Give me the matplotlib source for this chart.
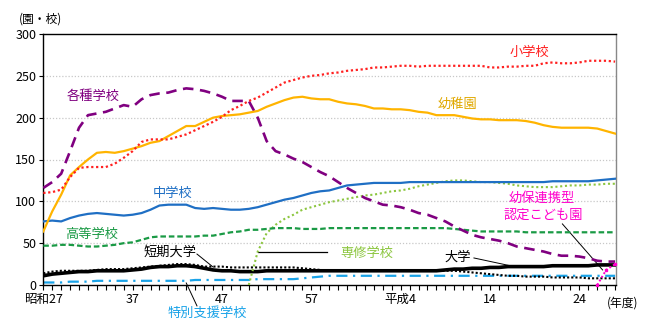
import numpy as np
import matplotlib
matplotlib.use('Agg')
import matplotlib.pyplot as plt

plt.rcParams['font.family'] = ['Noto Sans CJK JP', 'DejaVu Sans']

# fiscal years 昭和27 (1952) .. 平成28 (2016)
years = list(range(1952, 2017))

shogakko = [110, 111, 114, 129, 140, 141, 141, 141, 145, 152,
            160, 171, 174, 174, 174, 177, 180, 185, 190, 195,
            201, 209, 214, 220, 224, 230, 236, 242, 245, 248,
            250, 251, 253, 254, 256, 257, 258, 260, 260, 261,
            262, 262, 261, 262, 262, 262, 262, 262, 262, 262,
            260, 260, 261, 261, 262, 262, 265, 266, 265, 265,
            266, 268, 268, 268, 267]
yochien = [64, 88, 108, 131, 141, 150, 158, 159, 158, 160,
           163, 166, 170, 172, 178, 184, 190, 190, 195, 200,
           202, 203, 204, 206, 208, 213, 217, 221, 224, 225,
           223, 222, 222, 219, 217, 216, 214, 211, 211, 210,
           210, 209, 207, 206, 203, 203, 203, 201, 199, 198,
           198, 197, 197, 197, 196, 194, 191, 189, 188, 188,
           188, 188, 187, 184, 181]
kakushu = [116, 123, 133, 160, 188, 203, 205, 207, 211, 215,
           213, 222, 227, 229, 230, 233, 235, 234, 232, 229,
           225, 220, 220, 220, 200, 172, 160, 156, 151, 147,
           141, 135, 130, 123, 116, 110, 104, 100, 96, 95,
           93, 90, 86, 84, 80, 76, 70, 65, 60, 57,
           55, 53, 50, 46, 44, 42, 40, 37, 35, 35,
           34, 32, 29, 28, 28]
chugakko = [76, 77, 76, 80, 83, 85, 86, 85, 84, 83,
            84, 86, 90, 95, 96, 96, 96, 92, 91, 92,
            91, 90, 90, 91, 93, 96, 99, 102, 104, 107,
            110, 112, 113, 116, 119, 120, 121, 122, 122, 122,
            122, 123, 123, 123, 123, 123, 123, 123, 123, 123,
            123, 123, 123, 123, 123, 123, 123, 124, 124, 124,
            124, 124, 125, 126, 127]
koto = [47, 47, 48, 48, 47, 46, 46, 47, 48, 50,
        51, 54, 57, 58, 58, 58, 58, 58, 59, 59,
        61, 63, 64, 66, 66, 67, 68, 68, 68, 67,
        67, 67, 68, 68, 68, 68, 68, 68, 68, 68,
        68, 68, 68, 68, 68, 68, 67, 66, 65, 64,
        64, 64, 64, 64, 63, 63, 63, 63, 63, 63,
        63, 63, 63, 63, 63]
daigaku = [11, 13, 14, 15, 16, 16, 17, 17, 17, 17,
           18, 19, 21, 22, 22, 23, 23, 22, 20, 18,
           17, 17, 16, 16, 16, 17, 17, 17, 17, 17,
           17, 17, 17, 17, 17, 17, 17, 17, 17, 17,
           17, 17, 17, 17, 17, 18, 19, 19, 20, 20,
           21, 21, 22, 22, 22, 22, 22, 23, 23, 23,
           23, 23, 24, 24, 24]
tanki = [14, 16, 17, 17, 17, 17, 18, 19, 19, 19,
         20, 21, 22, 23, 24, 25, 25, 24, 22, 22,
         22, 21, 21, 21, 21, 21, 21, 21, 21, 20,
         19, 18, 17, 17, 17, 17, 17, 17, 17, 17,
         17, 17, 17, 17, 17, 17, 17, 16, 15, 14,
         13, 12, 11, 11, 10, 10, 10, 9, 9, 9,
         9, 8, 8, 8, 8]
tokubetsu = [3, 3, 3, 4, 4, 4, 5, 5, 5, 5,
             5, 5, 5, 5, 5, 5, 5, 6, 6, 6,
             6, 6, 6, 6, 7, 7, 7, 7, 7, 8,
             9, 10, 11, 11, 11, 11, 11, 11, 11, 11,
             11, 11, 11, 11, 11, 11, 11, 11, 11, 11,
             11, 11, 11, 11, 11, 11, 11, 11, 11, 11,
             11, 11, 11, 11, 11]

# 専修学校 from 昭和50, こども園 from 平成26
senshu_years = list(range(1975, 2017))
senshu = [0, 40, 62, 72, 79, 84, 90, 93, 96, 99,
          101, 103, 105, 107, 108, 110, 112, 113, 115, 118,
          120, 122, 124, 125, 125, 124, 123, 123, 122, 121,
          119, 118, 117, 117, 117, 118, 119, 119, 120, 120,
          121, 121]
kodomo_years = [2014, 2015, 2016]
kodomo = [0, 18, 25]

xtick_pos = [1952, 1962, 1972, 1982, 1992, 2002, 2012]
xtick_labels = ['昭和27', '37', '47', '57', '平成4', '14', '24']

fig = plt.figure(figsize=(6.49, 3.33), dpi=100)
ax = fig.add_axes([43.3 / 649, 1 - 285 / 333, (616 - 43.3) / 649, (285 - 34) / 333])

# gridlines
for v in [50, 100, 150, 200, 250]:
    ax.axhline(v, color='#c8c8c8', lw=0.9, ls=(0, (1, 1.5)), zorder=0)

ax.plot(years, tokubetsu, color='#1aa3e8', lw=1.6, ls=(0, (5, 2.5, 1, 2.5)), zorder=2)
ax.plot(years, tanki, color='black', lw=1.5, ls=(0, (1, 1)), zorder=3)
ax.plot(years, daigaku, color='black', lw=2.6, zorder=3)
ax.plot(senshu_years, senshu, color='#8cc63f', lw=1.5, ls=(0, (1, 1.3)), zorder=3)
ax.plot(years, koto, color='#1a9a45', lw=1.6, ls=(0, (2.5, 1.3)), zorder=3)
ax.plot(years, chugakko, color='#1f6fc4', lw=1.6, zorder=3)
ax.plot(years, kakushu, color='#800080', lw=1.9, ls=(0, (4, 2.5)), zorder=3)
ax.plot(years, yochien, color='#ffb400', lw=1.6, zorder=3)
ax.plot(years, shogakko, color='#ff2020', lw=1.6, ls=(0, (1, 1.2)), zorder=4)
ax.plot(kodomo_years, kodomo, color='#ff00cc', lw=1.4, ls=(0, (1, 1.2)), zorder=5,
        marker='s', markersize=1.8, clip_on=False)

ax.set_xlim(1952, 2016.1)
ax.set_ylim(0, 300)
ax.set_yticks(range(0, 301, 50))
ax.set_xticks(xtick_pos)
ax.set_xticklabels(xtick_labels)
ax.set_xticks(years, minor=True)
ax.tick_params(axis='x', which='both', length=3.5, width=0.8, direction='out', labelsize=9, pad=2)
ax.tick_params(axis='y', length=3, width=0.8, direction='out', labelsize=9, pad=2)
for s in ['left', 'bottom', 'top']:
    ax.spines[s].set_linewidth(1.0)
    ax.spines[s].set_color('black')
ax.spines['right'].set_color('#888888')
ax.spines['right'].set_linewidth(1.0)

fs = 9.5
ax.text(2006.4, 278, '小学校', color='#ff2020', fontsize=fs, ha='center', va='center')
ax.text(1998.4, 216, '幼稚園', color='#e0a800', fontsize=fs, ha='center', va='center')
ax.text(1957.6, 225, '各種学校', color='#800080', fontsize=fs, ha='center', va='center')
ax.text(1966.5, 110, '中学校', color='#1f6fc4', fontsize=fs, ha='center', va='center')
ax.text(1957.4, 60, '高等学校', color='#1a9a45', fontsize=fs, ha='center', va='center')
ax.text(1966.2, 39, '短期大学', color='black', fontsize=fs, ha='center', va='center')
ax.text(1988.2, 38, '専修学校', color='#8cc63f', fontsize=fs, ha='center', va='center')
ax.text(1998.4, 33, '大学', color='black', fontsize=fs, ha='center', va='center')
ax.text(1970.4, -34, '特別支援学校', color='#1aa3e8', fontsize=fs, ha='center', va='center',
        clip_on=False)
ax.text(2007.8, 103, '幼保連携型', color='#ff00cc', fontsize=fs, ha='center', va='center')
ax.text(2008.0, 83, '認定こども園', color='#ff00cc', fontsize=fs, ha='center', va='center')

# leader lines
ax.plot([1969.2, 1971.0], [37, 21.5], color='black', lw=0.7)
ax.plot([1976.0, 1983.8], [39.4, 39.4], color='black', lw=0.9)
ax.plot([2000.2, 2004.4], [32.3, 22.7], color='black', lw=0.7)
ax.plot([1968.0, 1969.2], [2.4, -25], color='black', lw=0.7, clip_on=False)
ax.plot([2010.1, 2014.6], [73, 18], color='black', lw=0.7)

fig.text(40 / 649, 1 - 19 / 333, '(園・校)', fontsize=8.5, ha='center', va='center')
fig.text(623 / 649, 1 - 303 / 333, '(年度)', fontsize=8.5, ha='center', va='center')

fig.savefig('out.png', dpi=100)
